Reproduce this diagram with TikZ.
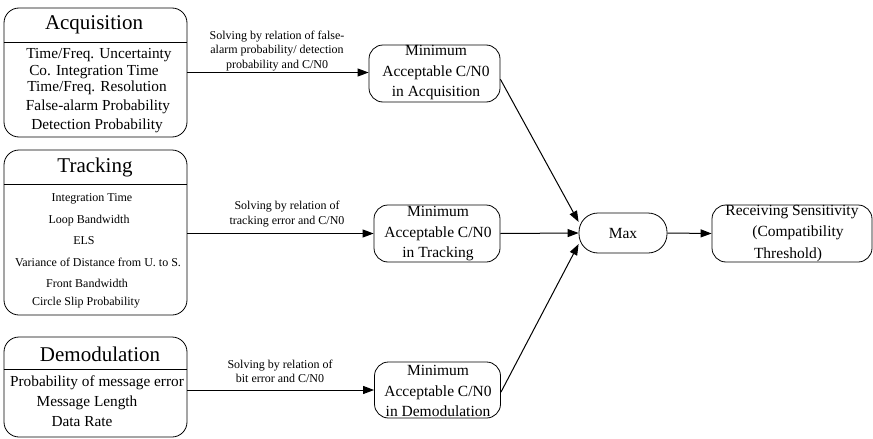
\documentclass[tikz,border=0pt]{standalone}
\usepackage{fontspec}
\setmainfont{Liberation Serif}
\usetikzlibrary{arrows.meta}
\tikzset{
  bigbox/.style={draw, line width=0.8pt, rounded corners=15pt, inner sep=0pt},
  minbox/.style={draw, line width=0.8pt, rounded corners=14pt, inner sep=0pt},
  pillbox/.style={draw, line width=0.8pt, rounded corners=19pt, inner sep=0pt},
  titletxt/.style={font=\rmfamily\fontsize{21}{24}\selectfont, inner sep=0pt},
  itemtxt/.style={font=\rmfamily\fontsize{15.3}{18}\selectfont, inner sep=0pt},
  smallitem/.style={font=\rmfamily\fontsize{12}{14}\selectfont, inner sep=0pt},
  lbltxt/.style={font=\rmfamily\fontsize{12}{14.2}\selectfont, align=center, inner sep=0pt},
  boxtxt/.style={font=\rmfamily\fontsize{15.5}{20.5}\selectfont, align=center, inner sep=0pt},
  arr/.style={line width=1pt, -{Triangle[length=11pt,width=8pt]}},
  hline/.style={line width=0.8pt}
}
\begin{document}
\begin{tikzpicture}[x=1pt,y=-1pt]
\useasboundingbox (0,0) rectangle (873,439);
% left boxes
\node[bigbox, minimum width=183pt, minimum height=129pt] (acq) at (95.5,72.5) {};
\node[bigbox, minimum width=183pt, minimum height=165pt] (trk) at (95.5,232.5) {};
\node[bigbox, minimum width=183pt, minimum height=100pt] (dem) at (95.5,387) {};
\draw[hline] (acq.west |- 0,42) -- (acq.east |- 0,42);
\draw[hline] (trk.west |- 0,184) -- (trk.east |- 0,184);
\draw[hline] (dem.west |- 0,369) -- (dem.east |- 0,369);
% titles
\node[titletxt] (acqt) at (94,25) {Acquisition};
\node[titletxt] (trkt) at (95,167) {Tracking};
\node[titletxt] (demt) at (100,354) {Demodulation};
% acquisition items
\node[itemtxt] (a1) at (99,55) {Time/Freq. Uncertainty};
\node[itemtxt] (a2) at (94,72) {Co. Integration Time};
\node[itemtxt] (a3) at (97,88) {Time/Freq. Resolution};
\node[itemtxt] (a4) at (98,107) {False-alarm Probability};
\node[itemtxt] (a5) at (97,126) {Detection Probability};
% tracking items
\node[smallitem] (t1) at (92,199) {Integration Time};
\node[smallitem] (t2) at (89,221) {Loop Bandwidth};
\node[smallitem] (t3) at (84,241) {ELS};
\node[smallitem] (t4) at (98,262) {Variance of Distance from U. to S.};
\node[smallitem] (t5) at (87,283) {Front Bandwidth};
\node[smallitem] (t6) at (86,303) {Circle Slip Probability};
% demodulation items
\node[itemtxt] (d1) at (97,383) {Probability of message error};
\node[itemtxt] (d2) at (87,403) {Message Length};
\node[itemtxt] (d3) at (82,422) {Data Rate};
% middle boxes
\node[minbox, minimum width=131pt, minimum height=57pt] (minacq) at (434.5,73.5) {};
\node[boxtxt] (minacqt) at (436,73) {Minimum\\Acceptable C/N0\\in Acquisition};
\node[minbox, minimum width=126pt, minimum height=57pt] (mintrk) at (437,233.5) {};
\node[boxtxt] (mintrkt) at (438,234) {Minimum\\Acceptable C/N0\\in Tracking};
\node[minbox, minimum width=126pt, minimum height=56pt] (mindem) at (437.5,390) {};
\node[boxtxt] (mindemt) at (438,391) {Minimum\\Acceptable C/N0\\in Demodulation};
% max and receiving
\node[pillbox, minimum width=88pt, minimum height=40pt] (max) at (623,233) {};
\node[boxtxt] (maxt) at (623,233) {Max};
\node[minbox, minimum width=160pt, minimum height=57pt] (recv) at (792,233.5) {};
\node[boxtxt] (recv1) at (792,212) {Receiving Sensitivity};
\node[boxtxt] (recv2) at (798,233) {(Compatibility};
\node[boxtxt] (recv3) at (788,255) {Threshold)};
% connectors
\draw[arr] (acq.east) -- (acq.east -| minacq.west);
\draw[arr] (trk.east |- mintrk.west) -- (mintrk.west);
\draw[arr] (dem.east |- mindem.west) -- (mindem.west);
\draw[arr] (minacq.-5) -- (max.166);
\draw[arr] (mintrk.east) -- (max.west);
\draw[arr] (mindem.-2) -- (max.194);
\draw[arr] (max.east) -- (recv.west);
% labels
\node[lbltxt] (l1) at (277,51) {Solving by relation of false-\\alarm probability/ detection\\probability and C/N0};
\node[lbltxt] (l2) at (287,214) {Solving by relation of\\tracking error and C/N0};
\node[lbltxt] (l3) at (280,371) {Solving by relation of\\bit error and C/N0};
\end{tikzpicture}
\end{document}
